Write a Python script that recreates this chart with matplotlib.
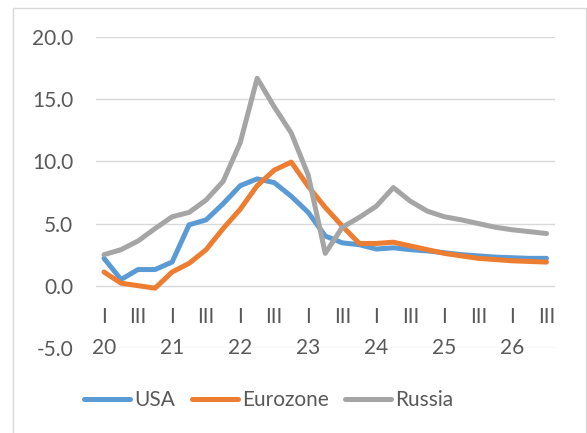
import matplotlib.pyplot as plt
from matplotlib.patches import Rectangle

# 季度数据 2020 Q1 - 2026 Q3
quarters = ['I', 'II', 'III', 'IV'] * 7
quarters = quarters[:27]
years = ['20', '21', '22', '23', '24', '25', '26']

usa = [2.2, 0.5, 1.3, 1.3, 1.9, 4.9, 5.3, 6.6, 8.05, 8.6, 8.3, 7.2,
       5.9, 4.0, 3.45, 3.3, 2.95, 3.05, 2.9, 2.8, 2.65, 2.5, 2.4, 2.3,
       2.25, 2.2, 2.2]
eurozone = [1.1, 0.2, 0.0, -0.2, 1.1, 1.8, 2.9, 4.6, 6.15, 8.05, 9.3, 9.95,
            8.0, 6.3, 4.8, 3.4, 3.4, 3.5, 3.2, 2.9, 2.6, 2.4, 2.2, 2.1,
            2.0, 1.95, 1.9]
russia = [2.5, 2.9, 3.6, 4.6, 5.55, 5.9, 6.9, 8.4, 11.5, 16.7, 14.4, 12.3,
          8.9, 2.6, 4.7, 5.5, 6.4, 7.9, 6.8, 6.0, 5.55, 5.3, 5.0, 4.7,
          4.5, 4.35, 4.2]

plt.rcParams['font.family'] = ['Lato', 'DejaVu Sans']
text_color = '#595959'
fs = 15

fig = plt.figure(figsize=(5.87, 4.33), dpi=100)
# 图表外框
fig.patches.append(Rectangle((13 / 587, -0.05), 573 / 587, 1.05 - 8 / 433,
                             transform=fig.transFigure, fill=False,
                             edgecolor='#d9d9d9', linewidth=1))

ax = fig.add_axes([0.1627, 0.1968, 0.7828, 0.7171])
x = list(range(len(usa)))

ax.plot(x, usa, color='#5b9bd5', linewidth=3.6, label='USA', solid_capstyle='round')
ax.plot(x, eurozone, color='#ed7d31', linewidth=3.6, label='Eurozone', solid_capstyle='round')
ax.plot(x, russia, color='#a5a5a5', linewidth=3.6, label='Russia', solid_capstyle='round')

ax.set_xlim(-0.5, len(usa) - 0.5)
ax.set_ylim(-5, 20)
ax.set_yticks([-5, 0, 5, 10, 15, 20])
ax.set_yticklabels([f'{v:.1f}' for v in [-5, 0, 5, 10, 15, 20]])
ax.yaxis.grid(True, color='#d9d9d9', linewidth=1)
ax.set_axisbelow(True)
ax.set_xticks([])
ax.tick_params(axis='y', length=0, pad=16, labelsize=fs, labelcolor=text_color)
for s in ax.spines.values():
    s.set_visible(False)

# 分类轴标签（季度 + 年份）
for i, q in enumerate(quarters):
    if q in ('I', 'III'):
        ax.text(i, -2.52, q, ha='center', va='center', fontsize=fs, color=text_color)
for k, yr in enumerate(years):
    ax.text(k * 4, -5, yr, ha='center', va='center', fontsize=fs, color=text_color)

fig.legend(loc='center', bbox_to_anchor=(0.458, 0.076), ncol=3, frameon=False,
           fontsize=fs, labelcolor=text_color, handlelength=2.2,
           handletextpad=0.2, columnspacing=0.8)

plt.savefig('out.png', dpi=100)
